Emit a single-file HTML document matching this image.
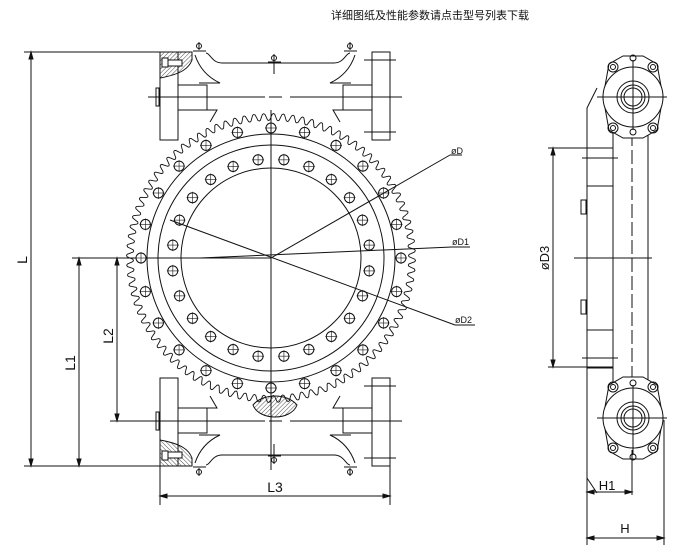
<!DOCTYPE html>
<html><head><meta charset="utf-8"><style>
body{margin:0;background:#fff;}
svg{display:block;}
text{font-family:"Liberation Sans","Noto Sans CJK SC",sans-serif;fill:#111;}
</style></head><body>
<svg id="s" width="700" height="560" viewBox="0 0 700 560" xmlns="http://www.w3.org/2000/svg" stroke="#111" fill="none" stroke-width="1">
<defs>
<pattern id="hat" width="3" height="3" patternUnits="userSpaceOnUse" patternTransform="rotate(45)"><line x1="0" y1="0" x2="0" y2="3" stroke="#222" stroke-width="0.8"/></pattern>
</defs>
<text x="430" y="19" font-size="11" text-anchor="middle" stroke="none">详细图纸及性能参数请点击型号列表下载</text>
<!-- left dims -->
<line x1="24" y1="52" x2="165" y2="52"/>
<line x1="24" y1="466" x2="165" y2="466"/>
<line x1="72" y1="258" x2="271" y2="258"/>
<line x1="110" y1="421" x2="165" y2="421"/>
<line x1="31" y1="52" x2="31" y2="466"/>
<path d="M31 52l-2 7h4zM31 466l-2-7h4zM79 258l-2 7h4zM79 466l-2-7h4zM117 258l-2 7h4zM117 421l-2-7h4z" fill="#111"/>
<line x1="79" y1="258" x2="79" y2="466"/>
<line x1="117" y1="258" x2="117" y2="421"/>
<text transform="translate(27,260) rotate(-90)" font-size="14" text-anchor="middle" stroke="none">L</text>
<text transform="translate(75,363) rotate(-90)" font-size="14" text-anchor="middle" stroke="none">L1</text>
<text transform="translate(113,336) rotate(-90)" font-size="14" text-anchor="middle" stroke="none">L2</text>
<!-- L3 -->
<line x1="160" y1="466" x2="160" y2="505"/>
<line x1="390" y1="466" x2="390" y2="505"/>
<line x1="160" y1="496" x2="390" y2="496"/>
<path d="M160 496l7-2v4zM390 496l-7-2v4z" fill="#111"/>
<text x="275" y="492" font-size="14" text-anchor="middle" stroke="none">L3</text>
<g id="carrier">
<rect x="160" y="52" width="18" height="88" fill="#fff"/>
<path d="M160 52h32v8c-3 8-10 14-32 18z" fill="url(#hat)"/>
<rect x="162" y="58" width="6" height="9" fill="#fff"/>
<rect x="168" y="60" width="14" height="6" fill="#fff"/>
<rect x="156" y="88" width="3" height="18"/>
<path d="M195 55c4 12 12 22 25 28h-21"/>
<path d="M206 53c4 0 6 10 16 10h112c10 0 12-10 16-10"/>
<path d="M178 85h29v25h-29M190 110h27l-7 12"/>
<path d="M355 55c-4 12-12 22-25 28h21"/>
<path d="M372 85h-29v25h29M360 110h-27l7 12"/>
<rect x="372" y="52" width="18" height="88"/>
<line x1="364" y1="60" x2="396" y2="60"/>
<line x1="364" y1="132" x2="396" y2="132"/>
<line x1="148" y1="97" x2="265" y2="97"/>
<line x1="269" y1="97" x2="282" y2="97"/>
<line x1="290" y1="97" x2="402" y2="97"/>
<circle cx="199" cy="46" r="2.5"/><line x1="193" y1="51" x2="206" y2="51"/><line x1="199" y1="42" x2="199" y2="50"/>
<circle cx="350" cy="46" r="2.5"/><line x1="344" y1="51" x2="357" y2="51"/><line x1="350" y1="42" x2="350" y2="50"/>
<circle cx="274" cy="58" r="2.5"/><line x1="268" y1="62" x2="281" y2="62"/><line x1="274" y1="54" x2="274" y2="74"/>
</g>
<use href="#carrier" transform="translate(0,518) scale(1,-1)"/>
<g id="gear"></g>
<line x1="271" y1="110" x2="271" y2="470"/>
<!-- leaders -->
<line x1="271" y1="258" x2="450" y2="155"/><line x1="450" y1="155" x2="462" y2="155"/>
<text x="451" y="154" font-size="9" stroke="none">øD</text>
<line x1="200" y1="258" x2="452" y2="247"/><line x1="452" y1="247" x2="470" y2="247"/>
<text x="452" y="245" font-size="9" stroke="none">øD1</text>
<line x1="170" y1="220" x2="455" y2="325"/><line x1="455" y1="325" x2="475" y2="325"/>
<text x="455" y="323" font-size="9" stroke="none">øD2</text>
<path d="M253 405c10-12 34-12 44 0c-6 16-38 16-44 0z" fill="url(#hat)"/>
<!-- right view -->
<g>
<line x1="548" y1="148" x2="613" y2="148"/>
<line x1="548" y1="367" x2="613" y2="367"/>
<line x1="553" y1="148" x2="553" y2="367"/>
<path d="M553 148l-2 7h4zM553 367l-2-7h4z" fill="#111"/>
<text transform="translate(549,258) rotate(-90)" font-size="13" text-anchor="middle" stroke="none">øD3</text>
<path d="M587 148v-40l10-20M587 148v330l10 15"/>
<rect x="587" y="148" width="26" height="38"/>
<rect x="587" y="330" width="26" height="38"/>
<line x1="613" y1="130" x2="613" y2="390"/>
<line x1="648" y1="130" x2="648" y2="390"/>
<line x1="632" y1="60" x2="632" y2="460" stroke-dasharray="14 4"/>
<line x1="574" y1="258" x2="652" y2="258"/>
<line x1="582" y1="158" x2="618" y2="158"/><line x1="582" y1="358" x2="618" y2="358"/>
<rect x="581" y="200" width="5" height="14"/><rect x="581" y="300" width="5" height="14"/>
<g id="eye">
<path d="M603 97l6-33 14-8h20l14 8 6 33-6 33-14 8h-20l-14-8z" fill="#fff"/>
<circle cx="633" cy="97" r="30" fill="#fff"/>
<circle cx="633" cy="97" r="16"/><circle cx="633" cy="97" r="12"/><circle cx="633" cy="97" r="9"/>
<circle cx="613" cy="67" r="5"/><circle cx="653" cy="67" r="5"/><circle cx="613" cy="128" r="5"/><circle cx="653" cy="128" r="5"/>
<circle cx="613" cy="67" r="2.5"/><circle cx="653" cy="67" r="2.5"/><circle cx="613" cy="128" r="2.5"/><circle cx="653" cy="128" r="2.5"/>
<circle cx="633" cy="58" r="3"/><circle cx="633" cy="132" r="3"/>
<line x1="597" y1="97" x2="667" y2="97"/><line x1="633" y1="60" x2="633" y2="130"/>
</g>
<use href="#eye" transform="translate(0,515) scale(1,-1)"/>
<line x1="587" y1="470" x2="587" y2="545"/>
<line x1="664" y1="420" x2="664" y2="545"/>
<line x1="632" y1="450" x2="632" y2="495"/>
<line x1="587" y1="492" x2="632" y2="492"/>
<line x1="587" y1="538" x2="664" y2="538"/>
<path d="M587 492l7-2v4zM632 492l-7-2v4zM587 538l7-2v4zM664 538l-7-2v4z" fill="#111"/>
<text x="607" y="490" font-size="13" text-anchor="middle" stroke="none">H1</text>
<text x="625" y="533" font-size="13" text-anchor="middle" stroke="none">H</text>
</g>
</svg>
<script>
var g=document.getElementById('gear'),cx=271,cy=258,h='';
var n=92,d='';
for(var i=0;i<=n*8;i++){var a=i/(n*8)*2*Math.PI;var s=Math.sin(i/8*2*Math.PI);var r=141+3.5*Math.sign(s)*Math.pow(Math.abs(s),0.6);d+=(i?'L':'M')+(cx+r*Math.cos(a)).toFixed(1)+' '+(cy+r*Math.sin(a)).toFixed(1);}
h+='<path d="'+d+'Z" stroke-width="0.9"/>';
h+='<circle cx="271" cy="258" r="124"/><circle cx="271" cy="258" r="113"/><circle cx="271" cy="258" r="90"/>';
function holes(R,k,off){for(var i=0;i<k;i++){var a=(i+off)/k*2*Math.PI;var x=cx+R*Math.cos(a),y=cy+R*Math.sin(a);h+='<circle cx="'+x.toFixed(1)+'" cy="'+y.toFixed(1)+'" r="5" fill="#fff"/><line x1="'+(x-6)+'" y1="'+y+'" x2="'+(x+6)+'" y2="'+y+'" stroke-width=".6"/><line x1="'+x+'" y1="'+(y-6)+'" x2="'+x+'" y2="'+(y+6)+'" stroke-width=".6"/>';}}
holes(130,24,0);holes(99,24,0.5);
g.innerHTML=h;
</script>
</body></html>
